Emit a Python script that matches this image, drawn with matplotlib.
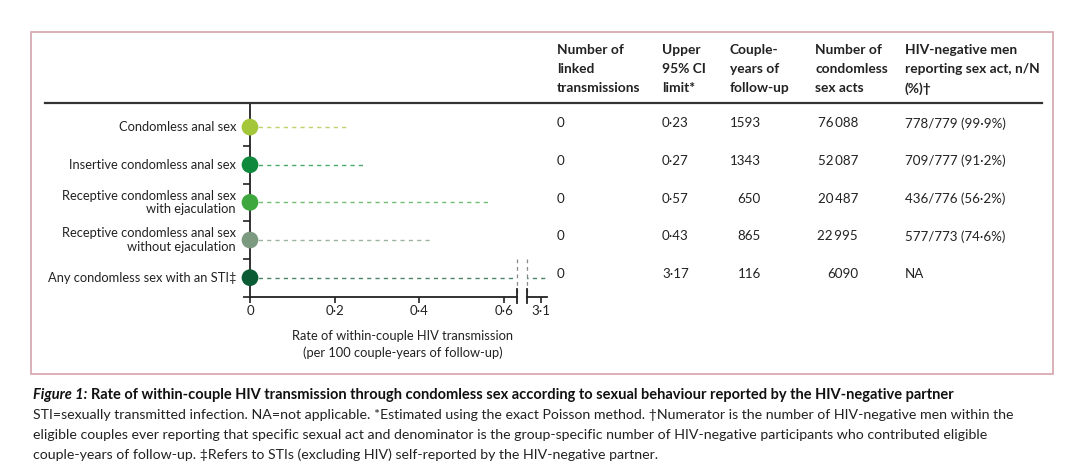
import matplotlib
matplotlib.use("Agg")
import matplotlib.pyplot as plt
from matplotlib.lines import Line2D
from matplotlib.patches import Rectangle
from matplotlib.transforms import blended_transform_factory

# === Données ===
behaviours = [
    "Condomless anal sex",
    "Insertive condomless anal sex",
    "Receptive condomless anal sex\nwith ejaculation",
    "Receptive condomless anal sex\nwithout ejaculation",
    "Any condomless sex with an STI\u2021",
]
rates = [0, 0, 0, 0, 0]
upper_ci = [0.23, 0.27, 0.57, 0.43, 3.17]
linked = ["0", "0", "0", "0", "0"]
upper_ci_txt = ["0\u00b723", "0\u00b727", "0\u00b757", "0\u00b743", "3\u00b717"]
couple_years = ["1593", "1343", "650", "865", "116"]
sex_acts = ["76\u2009088", "52\u2009087", "20\u2009487", "22\u2009995", "6090"]
reporting = ["778/779 (99\u00b79%)", "709/777 (91\u00b72%)", "436/776 (56\u00b72%)",
             "577/773 (74\u00b76%)", "NA"]
colours = ["#a4c639", "#0f8a3c", "#3ea83f", "#7c9a80", "#0b5b34"]
headers = ["Number of\nlinked\ntransmissions", "Upper\n95% CI\nlimit*", "Couple-\nyears of\nfollow-up",
           "Number of\ncondomless\nsex acts", "HIV-negative men\nreporting sex act, n/N\n(%)\u2020"]
xticks_left = [0, 0.2, 0.4, 0.6]
xticks_left_lab = ["0", "0\u00b72", "0\u00b74", "0\u00b76"]
xticks_right = [3.1]
xticks_right_lab = ["3\u00b71"]

FONT = ["Lato", "DejaVu Sans"]
plt.rcParams["font.family"] = FONT

W, H = 1080, 472
fig = plt.figure(figsize=(W / 100, H / 100), dpi=100)

def fx(px):
    return px / W

def fy(py):
    return 1 - py / H

# === Cadre rose ===
fig.patches.append(Rectangle((fx(31), fy(374)), fx(1053) - fx(31), fy(32) - fy(374),
                             transform=fig.transFigure, fill=False, ec="#d6a3ac", lw=1.2))
fig.lines.append(Line2D([fx(45), fx(1042)], [fy(103), fy(103)], transform=fig.transFigure,
                        color="#333333", lw=1.6))

# === Axes (axe cassé) ===
scale = 423.0  # px par unité
left_px, break1_px, break2_px, right_px = 250, 517, 527, 547
ax_top, ax_bot = 103, 296.5
ax1 = fig.add_axes([fx(left_px), fy(ax_bot), fx(break1_px - left_px), (ax_bot - ax_top) / H])
ax2 = fig.add_axes([fx(break2_px), fy(ax_bot), fx(right_px - break2_px), (ax_bot - ax_top) / H])
ax1.set_xlim(0, (break1_px - left_px) / scale)
ax2.set_xlim(3.1 - 14 / scale, 3.1 + 6 / scale)
for ax in (ax1, ax2):
    ax.set_ylim(4.5, -0.64)
    ax.patch.set_alpha(0)
    for s in ("top", "right"):
        ax.spines[s].set_visible(False)
    ax.spines["bottom"].set_linewidth(1.3)
    ax.spines["bottom"].set_color("#222222")
    ax.tick_params(axis="x", direction="out", length=4, width=1.2, color="#222222",
                   labelsize=9.5, pad=2, labelcolor="#222222")
ax2.spines["left"].set_visible(False)
ax2.set_yticks([])
ax1.spines["left"].set_linewidth(1.3)
ax1.spines["left"].set_color("#222222")
ax1.set_yticks([0.5, 1.5, 2.5, 3.5, 4.5])
ax1.set_yticklabels([])
ax1.tick_params(axis="y", direction="out", length=5, width=1.2, color="#222222")
ax1.set_xticks(xticks_left)
ax1.set_xticklabels(xticks_left_lab)
ax2.set_xticks(xticks_right)
ax2.set_xticklabels(xticks_right_lab)

ys = list(range(len(behaviours)))
for ax in (ax1, ax2):
    for y, lo, hi, c in zip(ys, rates, upper_ci, colours):
        ax.plot([lo, hi], [y, y], ls=(0, (3, 3)), lw=1.0, color=c, alpha=0.75, zorder=2)
ax1.scatter(rates, ys, s=145, c=colours, zorder=5, clip_on=False, edgecolors="none")

# marques de rupture
for ax, xa in ((ax1, 1), (ax2, 0)):
    tr = ax.get_yaxis_transform()
    ax.plot([xa, xa], [3.5, 4.5], transform=tr, ls=(0, (3, 3)), lw=0.9, color="#888888", clip_on=False)
    ax.plot([xa, xa], [4.3, 4.68], transform=tr, lw=1.3, color="#222222", clip_on=False)

# libellés de lignes
for y, lab in zip(ys, behaviours):
    ax1.text(-14 / scale, y, lab, ha="right", va="center", fontsize=9.3, color="#222222",
             linespacing=1.15)

fig.text(fx(403), fy(336), "Rate of within-couple HIV transmission", ha="center", va="center",
         fontsize=9.3, color="#222222")
fig.text(fx(403), fy(353), "(per 100 couple-years of follow-up)", ha="center", va="center",
         fontsize=9.3, color="#222222")

# === Tableau ===
col_x = [557, 662, 730, 815, 905]
for x, h in zip(col_x, headers):
    fig.text(fx(x), fy(44), h, ha="left", va="top", fontsize=9.9, fontweight="bold",
             color="#222222", linespacing=1.72)

tr = blended_transform_factory(fig.transFigure, ax1.transData)
for y in ys:
    ty = y - 0.1
    fig.text(fx(557), ty, linked[y], transform=tr, ha="left", va="center", fontsize=9.6, color="#222222")
    fig.text(fx(662), ty, upper_ci_txt[y], transform=tr, ha="left", va="center", fontsize=9.6, color="#222222")
    fig.text(fx(761), ty, couple_years[y], transform=tr, ha="right", va="center", fontsize=9.6, color="#222222")
    fig.text(fx(858), ty, sex_acts[y], transform=tr, ha="right", va="center", fontsize=9.6, color="#222222")
    fig.text(fx(905), ty, reporting[y], transform=tr, ha="left", va="center", fontsize=9.6, color="#222222")

# === Légende de la figure ===
t1 = fig.text(fx(33), fy(395), "Figure 1:", ha="left", va="center", fontsize=10.5,
              fontweight="bold", fontstyle="italic", color="#111111")
fig.canvas.draw()
bb = t1.get_window_extent()
fig.text(bb.x1 / W + fx(4), fy(395),
         "Rate of within-couple HIV transmission through condomless sex according to sexual behaviour reported by the HIV-negative partner",
         ha="left", va="center", fontsize=10.5, fontweight="bold", color="#111111")
caption = [
    "STI=sexually transmitted infection. NA=not applicable. *Estimated using the exact Poisson method. \u2020Numerator is the number of HIV-negative men within the",
    "eligible couples ever reporting that specific sexual act and denominator is the group-specific number of HIV-negative participants who contributed eligible",
    "couple-years of follow-up. \u2021Refers to STIs (excluding HIV) self-reported by the HIV-negative partner.",
]
for i, line in enumerate(caption):
    fig.text(fx(33), fy(415 + 20 * i), line, ha="left", va="center", fontsize=10.2,
             color="#222222")

fig.savefig("out.png", dpi=100)
